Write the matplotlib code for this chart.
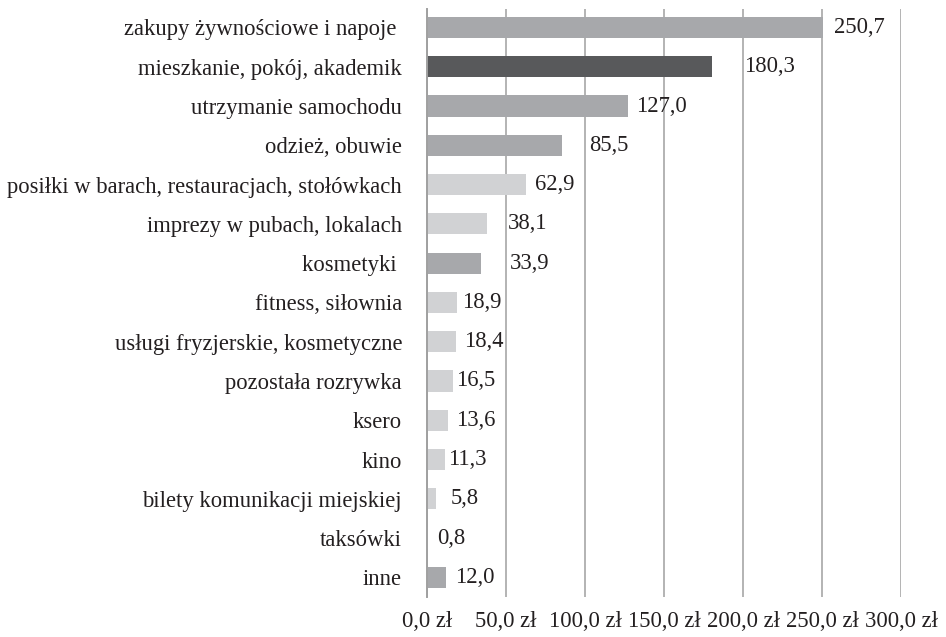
import matplotlib
matplotlib.use("Agg")
import matplotlib.pyplot as plt
from matplotlib.ticker import FuncFormatter

plt.rcParams['font.family'] = ['Liberation Serif', 'DejaVu Serif']

categories = [
    "zakupy żywnościowe i napoje ",
    "mieszkanie, pokój, akademik",
    "utrzymanie samochodu",
    "odzież, obuwie",
    "posiłki w barach, restauracjach, stołówkach",
    "imprezy w pubach, lokalach",
    "kosmetyki ",
    "fitness, siłownia",
    "usługi fryzjerskie, kosmetyczne",
    "pozostała rozrywka",
    "ksero",
    "kino",
    "bilety komunikacji miejskiej",
    "taksówki",
    "inne",
]
values = [250.7, 180.3, 127.0, 85.5, 62.9, 38.1, 33.9, 18.9, 18.4, 16.5, 13.6, 11.3, 5.8, 0.8, 12.0]
# shade group of each bar: 0 light, 1 medium, 2 dark
shade = [1, 2, 1, 1, 0, 0, 1, 0, 0, 0, 0, 0, 0, 0, 1]
xticks = [0, 50, 100, 150, 200, 250, 300]

# label distance from bar end, in pixels
label_gap = [11, 32, 8, 27, 9, 21, 29, 5, 8, 3, 8, 3, 15, 9, 9]

palette = {0: '#d1d2d4', 1: '#a7a8ab', 2: '#58595b'}
colors = [palette[s] for s in shade]
FS = 16.3

fig = plt.figure(figsize=(9.46, 6.37), dpi=100)
ax = fig.add_axes([427 / 946, 1 - 597 / 637, 474 / 946, 588 / 637])

ypos = list(range(len(categories)))
ax.barh(ypos, values, height=0.54, color=colors, zorder=3)

for y, v, g in zip(ypos, values, label_gap):
    ax.annotate(f"{v:.1f}".replace('.', ','), (v, y), xytext=(g * 0.72, 0),
                textcoords='offset points', ha='left', va='center',
                fontsize=FS, color='#231f20', zorder=4)

ax.set_xlim(0, 300)
ax.set_ylim(len(categories) - 0.5, -0.47)
ax.set_xticks(xticks)
ax.xaxis.set_major_formatter(FuncFormatter(lambda x, p: f"{x:.1f} zł".replace('.', ',')))
ax.set_yticks(ypos)
ax.set_yticklabels(categories)
ax.tick_params(axis='x', length=0, pad=10, labelsize=FS, colors='#231f20')
ax.tick_params(axis='y', length=0, pad=18, labelsize=FS, colors='#231f20')

ax.grid(axis='x', color='#b3b3b3', linewidth=1.4, zorder=0)
for s in ['top', 'right', 'bottom']:
    ax.spines[s].set_visible(False)
ax.spines['left'].set_color('#a0a0a0')
ax.spines['left'].set_linewidth(1.4)
ax.spines['left'].set_zorder(5)

fig.savefig('out.png', dpi=100)
